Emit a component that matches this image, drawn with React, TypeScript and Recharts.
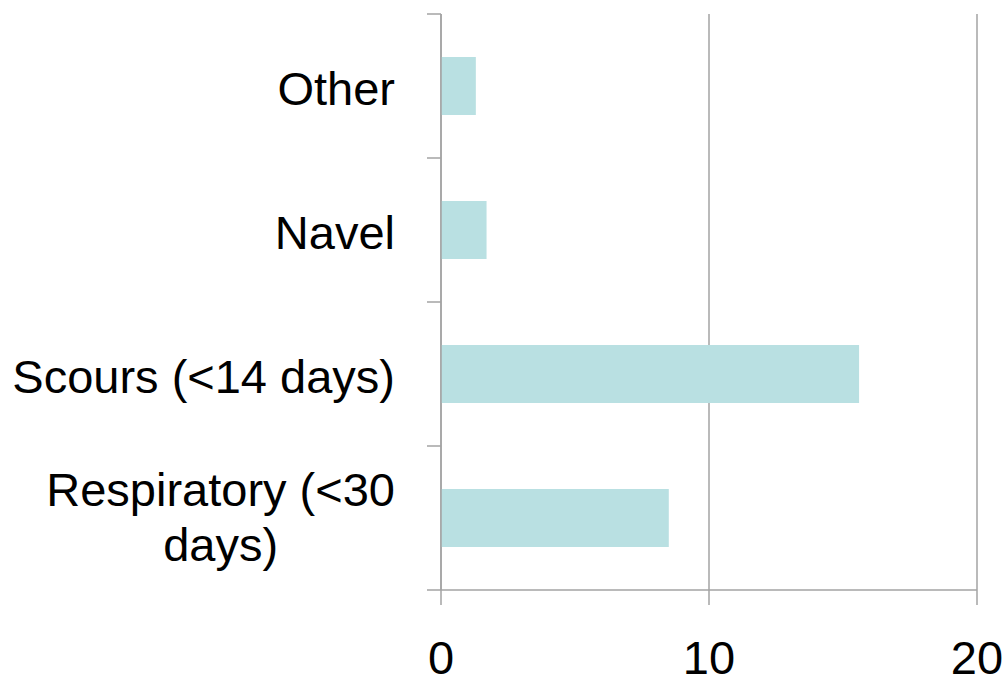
import React from 'react';
import { BarChart, Bar, XAxis, YAxis, CartesianGrid } from 'recharts';

const categories = ['Other', 'Navel', 'Scours (<14 days)', 'Respiratory (<30 days)'];
const values = [1.3, 1.7, 15.6, 8.5];
const xTicks = [0, 10, 20];

const data = categories.map((name, i) => ({ name, value: values[i] }));

const FONT = '"Liberation Sans", Arial, sans-serif';
const FONT_SIZE = 47;
const AXIS = '#a3a3a3';

let ctx: CanvasRenderingContext2D | null = null;
const measure = (s: string) => {
  if (!ctx) ctx = document.createElement('canvas').getContext('2d');
  if (!ctx) return s.length * FONT_SIZE * 0.5;
  ctx.font = `${FONT_SIZE}px ${FONT}`;
  return ctx.measureText(s).width;
};

const wrap = (text: string, maxW: number) => {
  const words = text.split(' ');
  const lines: string[] = [];
  let cur = '';
  words.forEach((w) => {
    const next = cur ? cur + ' ' + w : w;
    if (cur && measure(next) > maxW) {
      lines.push(cur);
      cur = w;
    } else {
      cur = next;
    }
  });
  if (cur) lines.push(cur);
  return lines;
};

// category label plus tick marks on band edges
const CategoryTick = (props: any) => {
  const { x, y, payload, index, visibleTicksCount } = props;
  const off = payload.offset ?? 72;
  const axisX = x + 46;
  const lines = wrap(String(payload.value), 392);
  const widest = Math.max(...lines.map(measure));
  const cx = x - widest / 2;
  const n = lines.length;
  return (
    <g>
      <line x1={axisX - 14} x2={axisX} y1={y - off} y2={y - off} stroke={AXIS} strokeWidth={1.5} />
      {index === visibleTicksCount - 1 && (
        <line x1={axisX - 14} x2={axisX} y1={y + off} y2={y + off} stroke={AXIS} strokeWidth={1.5} />
      )}
      <text fontFamily={FONT} fontSize={FONT_SIZE} fill="#000" textAnchor="middle">
        {lines.map((l, i) => (
          <tspan key={i} x={cx} y={y + 18.5 - (n - 1) * 31 + i * 55}>
            {l}
          </tspan>
        ))}
      </text>
    </g>
  );
};

export default function App() {
  return (
    <div style={{ width: 1007, height: 679, background: '#fff' }}>
      <style>{'body{margin:0}'}</style>
      <BarChart
        width={1007}
        height={679}
        data={data}
        layout="vertical"
        margin={{ top: 14, right: 30, left: 0, bottom: 0 }}
        barCategoryGap={0}
      >
        <CartesianGrid horizontal={false} stroke={AXIS} strokeWidth={1.5} />
        <XAxis
          type="number"
          domain={[0, 20]}
          ticks={xTicks}
          height={89}
          tickSize={15}
          tickMargin={36}
          axisLine={{ stroke: AXIS, strokeWidth: 1.5 }}
          tickLine={{ stroke: AXIS, strokeWidth: 1.5 }}
          tick={{ fontFamily: FONT, fontSize: FONT_SIZE, fill: '#000' }}
        />
        <YAxis
          type="category"
          dataKey="name"
          width={441}
          tickSize={14}
          tickMargin={32}
          tickLine={false}
          axisLine={{ stroke: AXIS, strokeWidth: 1.5 }}
          tick={<CategoryTick />}
          interval={0}
        />
        <Bar dataKey="value" fill="#b9e0e2" barSize={58} isAnimationActive={false} />
      </BarChart>
    </div>
  );
}
